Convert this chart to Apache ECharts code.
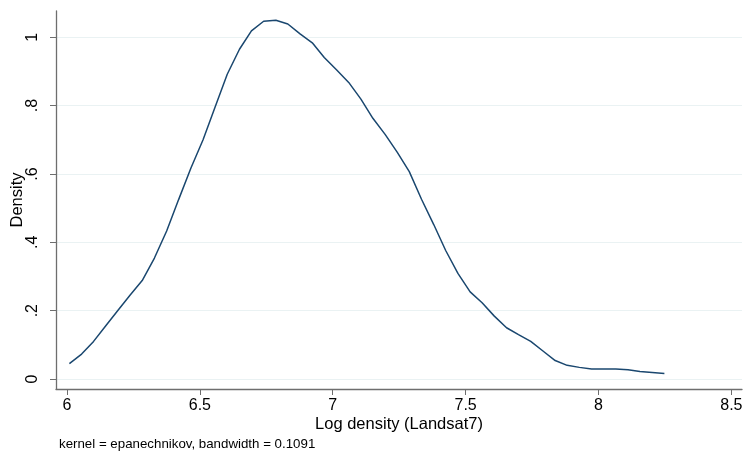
<!DOCTYPE html>
<html>
<head>
<meta charset="utf-8">
<script src="https://cdn.jsdelivr.net/npm/echarts@6/dist/echarts.min.js"></script>
<style>
html,body{margin:0;padding:0;background:#fff;}
#chart{width:745px;height:452px;}
</style>
</head>
<body>
<div id="chart"></div>
<script>
// Kernel density estimate grid (x) and density values (y)
const xGrid = [6.009,6.055,6.100,6.146,6.192,6.237,6.283,6.329,6.375,6.420,
  6.466,6.512,6.557,6.603,6.649,6.694,6.740,6.786,6.831,6.877,
  6.923,6.968,7.014,7.060,7.106,7.151,7.197,7.243,7.288,7.334,
  7.380,7.425,7.471,7.517,7.562,7.608,7.654,7.699,7.745,7.791,
  7.837,7.882,7.928,7.974,8.019,8.065,8.111,8.156,8.202,8.248];
const density = [0.045,0.073,0.110,0.156,0.201,0.245,0.288,0.354,0.433,0.525,
  0.617,0.700,0.795,0.892,0.965,1.019,1.047,1.050,1.039,1.010,
  0.984,0.941,0.905,0.868,0.819,0.763,0.716,0.663,0.607,0.526,
  0.452,0.376,0.309,0.255,0.223,0.184,0.150,0.130,0.110,0.082,
  0.054,0.040,0.034,0.029,0.029,0.029,0.027,0.022,0.019,0.016];
const xTicks = [6, 6.5, 7, 7.5, 8, 8.5];
const yTicks = [0, 0.2, 0.4, 0.6, 0.8, 1];
const xTitle = 'Log density (Landsat7)';
const yTitle = 'Density';
const note = 'kernel = epanechnikov, bandwidth = 0.1091';

const FONT = '"Liberation Sans", Arial, sans-serif';
const AXIS_COLOR = '#6e6e6e';
const GRID_COLOR = '#eaf2f3';

const chart = echarts.init(document.getElementById('chart'), null, {renderer: 'canvas'});
const fmtY = v => v === 0 ? '0' : String(+v.toFixed(1)).replace(/^0\./, '.');

chart.setOption({
  backgroundColor: '#ffffff',
  animation: false,
  grid: {left: 56, right: 3, top: 11, bottom: 63, containLabel: false, outerBoundsMode: 'none'},
  xAxis: {
    type: 'value',
    min: 5.9586, max: 8.540,
    name: xTitle,
    nameLocation: 'middle',
    nameGap: 27,
    nameMoveOverlap: false,
    nameTextStyle: {fontFamily: FONT, fontSize: 16.5, color: '#000'},
    axisLine: {show: true, onZero: false, lineStyle: {color: AXIS_COLOR, width: 1.3}},
    axisTick: {show: true, length: 6, customValues: xTicks, lineStyle: {color: AXIS_COLOR, width: 1}},
    axisLabel: {customValues: xTicks, fontFamily: FONT, fontSize: 16, color: '#000', margin: 9,
      formatter: v => String(v)},
    splitLine: {show: false}
  },
  yAxis: {
    type: 'value',
    min: -0.0293, max: 1.077,
    name: yTitle,
    nameLocation: 'middle',
    nameRotate: 90,
    nameGap: 30,
    nameMoveOverlap: false,
    nameTextStyle: {fontFamily: FONT, fontSize: 16.5, color: '#000'},
    axisLine: {show: true, onZero: false, lineStyle: {color: AXIS_COLOR, width: 1.3}},
    axisTick: {show: true, length: 6, customValues: yTicks, lineStyle: {color: AXIS_COLOR, width: 1}},
    axisLabel: {customValues: yTicks, rotate: 90, fontFamily: FONT, fontSize: 16, color: '#000', margin: 15,
      formatter: fmtY},
    splitLine: {show: true, lineStyle: {color: GRID_COLOR, width: 1}}
  },
  graphic: [{
    type: 'text',
    left: 59, top: 438,
    style: {text: note, font: '13.3px ' + FONT, fill: '#000'}
  }],
  series: [{
    type: 'line',
    data: xGrid.map((x, i) => [x, density[i]]),
    showSymbol: false,
    smooth: false,
    lineStyle: {color: '#1a476f', width: 1.5},
    itemStyle: {color: '#1a476f'}
  }]
});
</script>
</body>
</html>
